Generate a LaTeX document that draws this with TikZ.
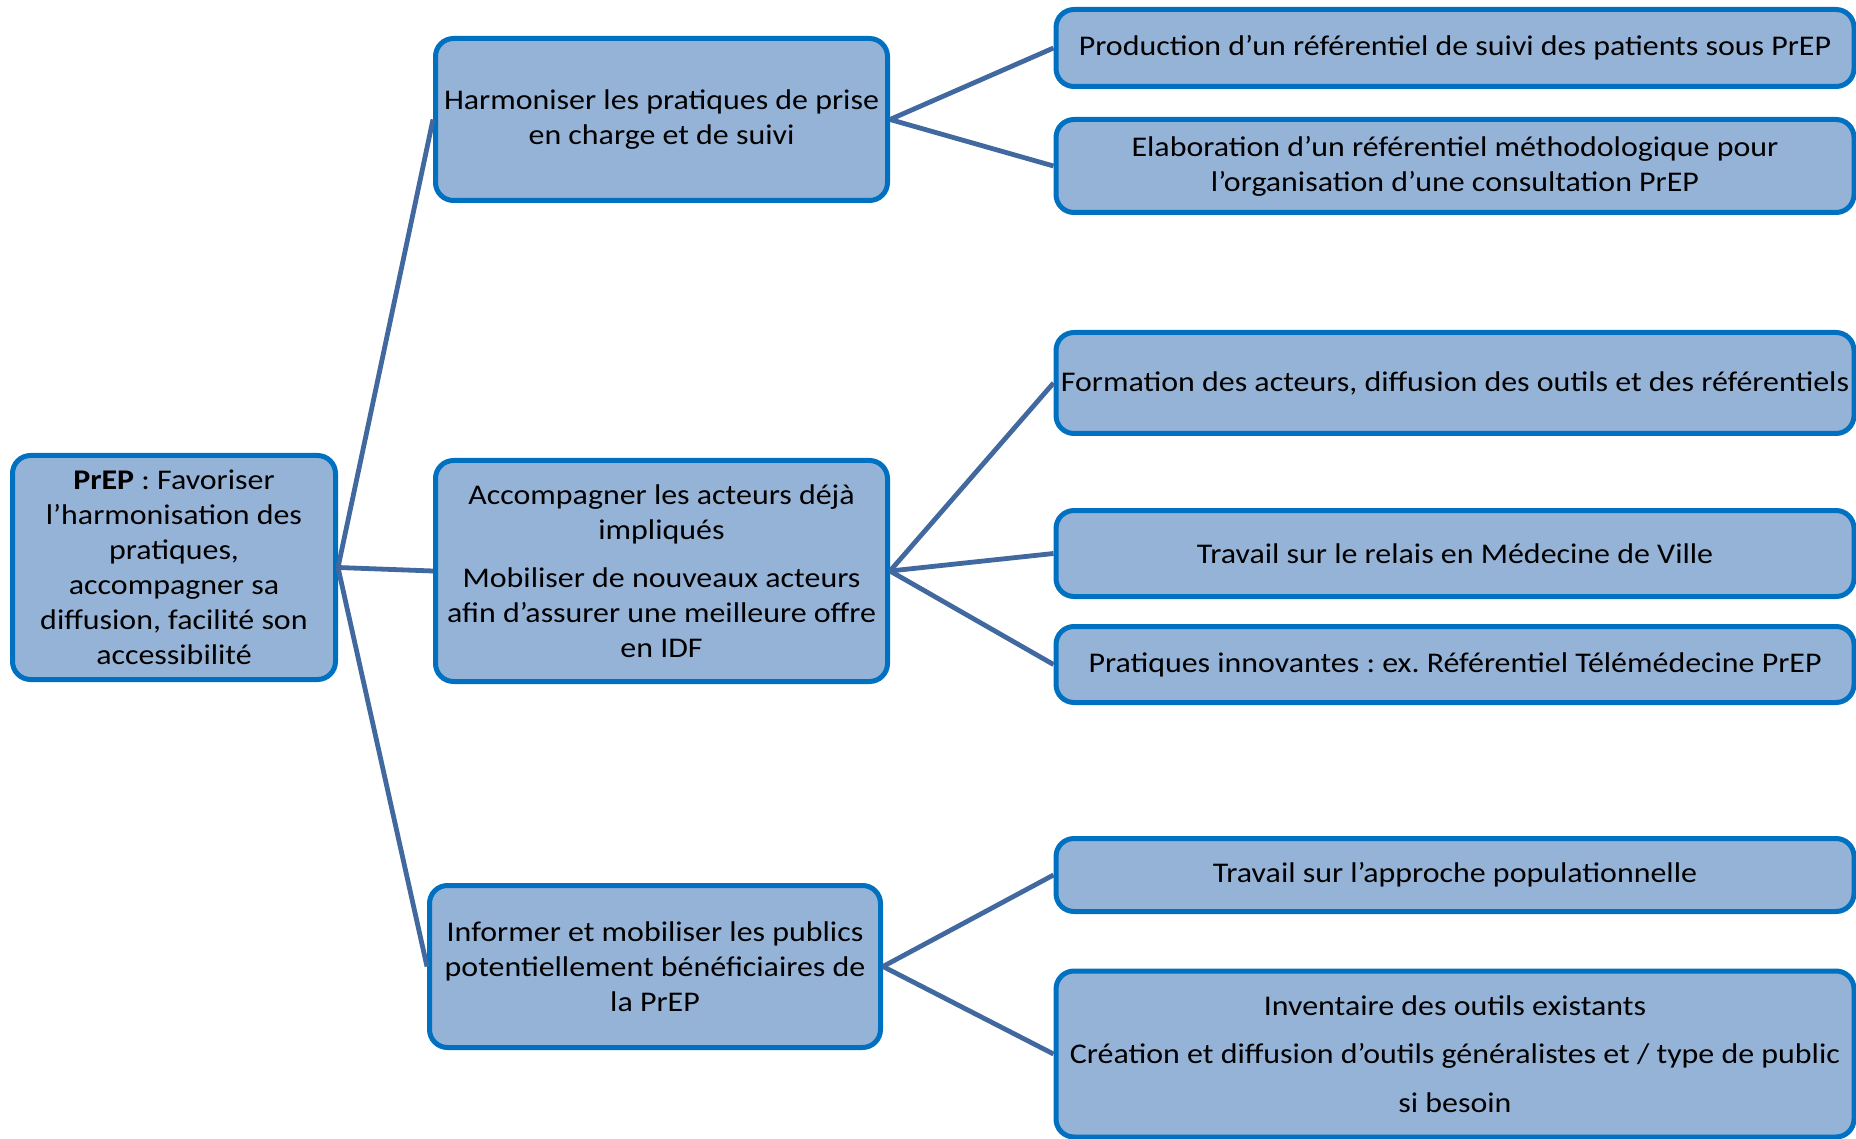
\documentclass[tikz,border=0pt]{standalone}
\usepackage{fontspec}
\setmainfont{Carlito}[FakeStretch=1.12]
\frenchspacing
\definecolor{boxfill}{HTML}{95B3D7}
\definecolor{boxline}{HTML}{0070C0}
\definecolor{conn}{HTML}{41689F}
\begin{document}
\begin{tikzpicture}[x=1pt,y=-1pt,
  box/.style={draw=boxline, fill=boxfill, line width=5pt, rounded corners=18pt,
    align=center, inner sep=0pt, font=\frenchspacing\fontsize{28.5}{35}\selectfont},
  link/.style={draw=conn, line width=4.8pt}]
\useasboundingbox (0,0) rectangle (1856,1139);
\node[box, minimum width=323, minimum height=224] (root) at (174,567.5)
  {\textbf{PrEP} : Favoriser\\l’harmonisation des\\pratiques,\\accompagner sa\\diffusion, facilité son\\accessibilité};
\node[box, minimum width=452, minimum height=162] (m1) at (661.5,119.5)
  {Harmoniser les pratiques de prise\\en charge et de suivi};
\node[box, minimum width=452, minimum height=221] (m2) at (661.5,571)
  {Accompagner les acteurs déjà\\impliqués\\[13pt]Mobiliser de nouveaux acteurs\\afin d’assurer une meilleure offre\\en IDF};
\node[box, minimum width=451, minimum height=162] (m3) at (655,966.5)
  {Informer et mobiliser les publics\\potentiellement bénéficiaires de\\la PrEP};
\node[box, minimum width=798, minimum height=77] (r1) at (1455,48)
  {Production d’un référentiel de suivi des patients sous PrEP};
\node[box, minimum width=798, minimum height=93] (r2) at (1455,166)
  {Elaboration d’un référentiel méthodologique pour\\l’organisation d’une consultation PrEP};
\node[box, minimum width=798, minimum height=101] (r3) at (1455,383)
  {Formation des acteurs, diffusion des outils et des référentiels};
\node[box, minimum width=798, minimum height=86] (r4) at (1455,553.5)
  {Travail sur le relais en Médecine de Ville};
\node[box, minimum width=798, minimum height=76] (r5) at (1455,664.5)
  {Pratiques innovantes : ex. Référentiel Télémédecine PrEP};
\node[box, minimum width=798, minimum height=73] (r6) at (1455,875)
  {Travail sur l’approche populationnelle};
\node[box, minimum width=798, minimum height=166] (r7) at (1455,1054)
  {Inventaire des outils existants\\[13.5pt]Création et diffusion d’outils généralistes et / type de public\\[13.5pt]si besoin};
\draw[link] (root.east) -- (m1.west);
\draw[link] (root.east) -- (m2.west);
\draw[link] (root.east) -- (m3.west);
\draw[link] (m1.east) -- (r1.west);
\draw[link] (m1.east) -- (r2.west);
\draw[link] (m2.east) -- (r3.west);
\draw[link] (m2.east) -- (r4.west);
\draw[link] (m2.east) -- (r5.west);
\draw[link] (m3.east) -- (r6.west);
\draw[link] (m3.east) -- (r7.west);
\end{tikzpicture}
\end{document}
